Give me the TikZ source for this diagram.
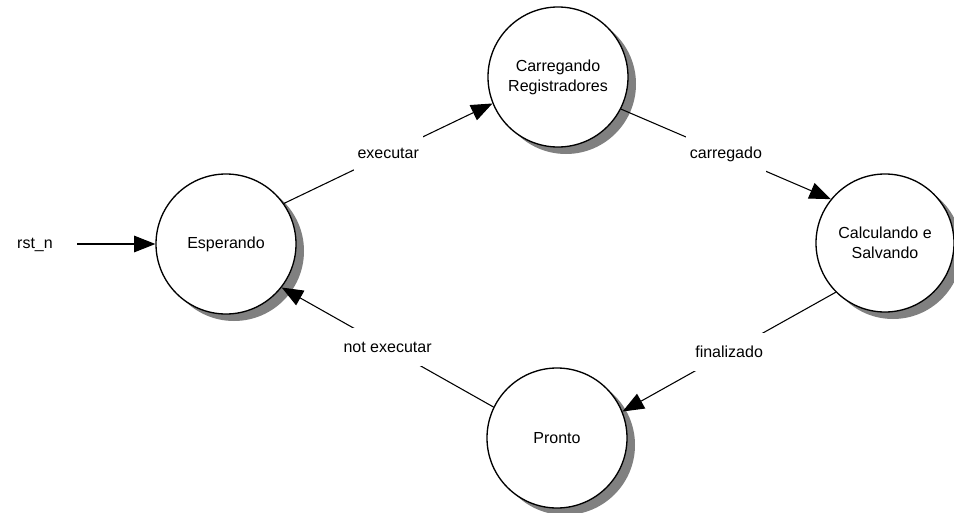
\documentclass[tikz,border=0pt]{standalone}
\usepackage{fontspec}
\setmainfont{Liberation Sans}
\usetikzlibrary{arrows.meta}
\definecolor{shadowgray}{RGB}{128,128,128}
\begin{document}
\begin{tikzpicture}[x=0.75pt,y=0.75pt,
  txt/.style={font=\fontsize{12}{15}\selectfont},
  state/.style={circle,draw,line width=1pt,fill=white,minimum size=105pt,inner sep=0pt,align=center,txt},
  shadowdisc/.style={fill=shadowgray},
  lbl/.style={fill=white,inner xsep=3pt,inner ysep=0pt,minimum height=28.5pt,txt},
  edge/.style={-{Triangle[length=16pt,width=12.5pt]},line width=0.8pt}]
\useasboundingbox (0,0) rectangle (954,512);
\coordinate (cE) at (226,268);
\coordinate (cC) at (558,435);
\coordinate (cK) at (885,269);
\coordinate (cP) at (557,74);
\fill[shadowdisc] ([shift={(8,-7)}]cE) circle[radius=70];
\fill[shadowdisc] ([shift={(8,-7)}]cC) circle[radius=70];
\fill[shadowdisc] ([shift={(8,-7)}]cK) circle[radius=69];
\fill[shadowdisc] ([shift={(8,-7)}]cP) circle[radius=70];
\node[state] (E) at (cE) {Esperando};
\node[state] (C) at (cC) {Carregando\\Registradores};
\node[state,minimum size=103.5pt] (K) at (cK) {Calculando e\\Salvando};
\node[state] (P) at (cP) {Pronto};
\node[txt] (rst) at (35,267) {rst\_n};
\coordinate (rs) at (77,268);
\draw[edge] (rs) -- (E.west);
\draw[edge] (E.35) -- node[lbl]{executar} (C.202);
\draw[edge] (C.-27) -- node[lbl]{carregado} (K.141);
\draw[edge] (K.225) -- node[lbl]{finalizado} (P.22);
\draw[edge] (P.154) -- node[lbl]{not executar} (E.-38);
\end{tikzpicture}
\end{document}
